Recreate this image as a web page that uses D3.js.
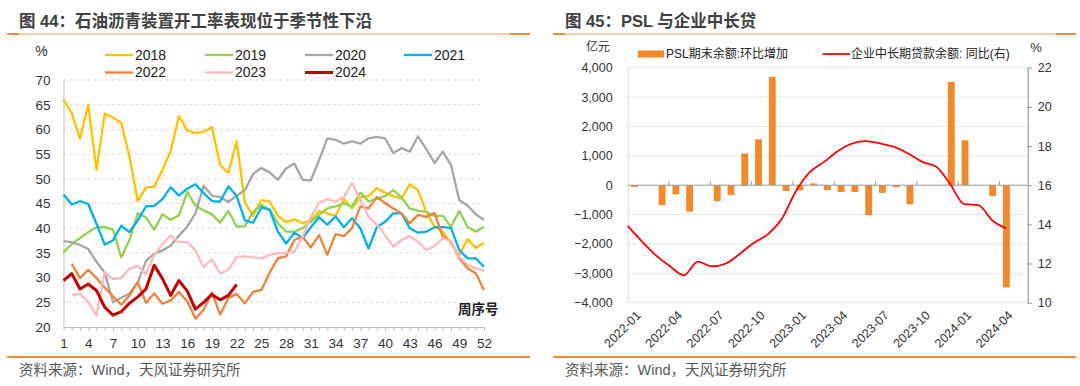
<!DOCTYPE html>
<html lang="zh">
<head>
    <meta charset="UTF-8"/>
    <title>图 44 / 图 45</title>
    <script src="https://d3js.org/d3.v7.min.js"></script>
    <style>
        body { margin: 0; background: #fff; }
        svg text { font-family: "Liberation Sans", "Noto Sans CJK SC", sans-serif; }
    </style>
</head>
<body>
<script>
    // ---- left chart data: weekly operating rate (%) ----
    var weeks = d3.range(1, 53);
    var years = ["2018", "2019", "2020", "2021", "2022", "2023", "2024"];
    var s2018 = [66, 63.3, 58.2, 65, 51.8, 63.2, 62.4, 61.3, 54.5, 45.5, 48.2, 48.4, 51.8, 55.6, 62.7, 59.8, 59.3, 59.5, 60.5, 52.8,
                 51.2, 57.6, 45.2, 42.5, 45.7, 45.4, 42.5, 41.2, 41.8, 41, 41.6, 43.5, 43, 42.5, 45.9, 44, 46.3, 46.5, 48.1, 47.2,
                 46.5, 46, 48.9, 47.7, 43.3, 40.3, 39.3, 36.9, 34.6, 37.8, 36, 37];
    var s2019 = [35.1, 36.8, 38, 39.2, 40.2, 40.2, 39.7, 34.1, 37.6, 43, 42.2, 39.7, 42.8, 41.7, 42.6, 47.3, 44.6, 43.6, 42.8, 41.1,
                 43.5, 40.3, 40.4, 43.3, 44.7, 43.8, 41, 39.3, 39.3, 40, 41.3, 42.7, 44, 44.4, 45, 44.4, 47.2, 45.4, 46, 46.5,
                 47.7, 46.2, 44, 43.5, 43.3, 42.5, 42.5, 40.3, 43.5, 40.3, 39.3, 40.3];
    var s2020 = [37.4, 37.2, 36.6, 35.8, 33.2, 31, 25, 25.9, 26.8, 29, 33.4, 34.8, 35.5, 36.5, 38.5, 40.3, 43, 48.6, 46.6, 46.3,
                 45.3, 46.6, 47.7, 51, 52.2, 51.3, 49.8, 52.1, 53.1, 49.8, 49.7, 53.8, 58.2, 57.9, 57.1, 57.6, 57.1, 58.2, 58.5, 58.2,
                 55.2, 56.2, 55.5, 58.6, 56, 53.2, 55.5, 52.8, 45.7, 44.6, 42.8, 41.7];
    var s2021 = [46.8, 44.8, 45.5, 44.9, 40.9, 36.7, 37.5, 40.5, 39.2, 41.6, 44.4, 44.5, 45.9, 48.3, 46.6, 48, 48.9, 47.1, 45.5, 45.4,
                 48.5, 46.5, 41.6, 41.1, 44.2, 43.7, 39.3, 36.9, 39.1, 38, 40.2, 42.2, 40.7, 42.4, 40.2, 42, 40, 35.9, 40.2, 41.3,
                 43, 43, 40, 39.1, 39.3, 40.2, 40.2, 40, 35.6, 33.9, 33.9, 32.2];
    var s2022 = [null, 32.8, 29.9, 31.6, 29.9, 28, 26.2, 24.5, 26.4, 29.1, 24.9, 26.8, 24.7, 25.4, 27.1, 25.2, 21.7, 23.5, 27, 22.5,
                 25.9, 26.7, 24.8, 27.1, 27.5, 31, 33.9, 34.3, 37.6, 38.3, 36.1, 38.6, 34.6, 38.8, 38.4, 40, 44.4, 44, 46.3, 45.1,
                 44, 43, 41, 42.7, 42.3, 43.1, 38.3, 37.3, 33.9, 31.9, 30.9, 27.5];
    var s2023 = [null, 26.5, 26.7, 25, 22.4, 31.1, 29.7, 29.9, 31.8, 32.4, 30.7, 34.5, 36.8, 38.5, 37.2, 37.2, 35.5, 32.1, 33.7, 30.8,
                 31.6, 34.2, 34.3, 34.1, 33.9, 34.6, 34.9, 35, 35.2, 38.3, 42.3, 45.2, 45.9, 45.4, 46.3, 49.2, 45.7, 42.3, 40.7, 38.6,
                 36.3, 37.6, 38.4, 37.3, 35.6, 36.4, 38, 37.3, 34.2, 32.6, 31.9, 31.3];
    var s2024 = [29.4, 30.8, 27.7, 28.7, 27.4, 24, 22.4, 23.1, 24.8, 26.1, 27.7, 32.5, 29.8, 26.4, 29.4, 27.3, 23.6, 25, 26.6, 25.5,
                 26.4, 28.6];
    var leftTicks = d3.range(20, 75, 5);

    // ---- right chart data ----
    var months = ["2022-01", "2022-02", "2022-03", "2022-04", "2022-05", "2022-06", "2022-07", "2022-08", "2022-09", "2022-10",
                  "2022-11", "2022-12", "2023-01", "2023-02", "2023-03", "2023-04", "2023-05", "2023-06", "2023-07", "2023-08",
                  "2023-09", "2023-10", "2023-11", "2023-12", "2024-01", "2024-02", "2024-03", "2024-04"];
    // PSL期末余额:环比增加 (亿元)
    var psl = [-60, 0, -680, -306, -900, 0, -545, -330, 1080, 1560, 3690, -195, -170, 60, -170, -230, -230, -1020, -260, -70,
               -650, 0, 0, 3515, 1530, 0, -365, -3480];
    // 企业中长期贷款余额:同比 (%)
    var loanYoy = [13.92, 13.14, 12.43, 11.87, 11.4, 12.1, 11.85, 12.0, 12.5, 13.06, 13.5, 14.3, 15.7, 16.68, 17.19, 17.75,
                   18.13, 18.25, 18.13, 17.96, 17.62, 17.19, 16.94, 16.05, 15.03, 14.98, 14.2, 13.79];
    var rightLeftTicks = d3.range(-4000, 4001, 1000);
    var rightRightTicks = d3.range(10, 23, 2);

    var seriesList = [s2018, s2019, s2020, s2021, s2022, s2023, s2024];
    var colors = ["#ffc000", "#92d050", "#a6a6a6", "#00b0f0", "#f0823c", "#ffb9bd", "#c00000"];

    var svg = d3.select("body").append("svg")
        .attr("width", 1080)
        .attr("height", 386);

    // ---- headers and footers ----
    function header(x0, x1, title) {
        svg.append("line").attr("x1", x0).attr("x2", x1).attr("y1", 34).attr("y2", 34)
            .attr("stroke", "#fbd0ae").attr("stroke-width", 2);
        svg.append("line").attr("x1", x0).attr("x2", x0 + 12).attr("y1", 34).attr("y2", 34)
            .attr("stroke", "#f08a3a").attr("stroke-width", 2);
        svg.append("line").attr("x1", x1 - 20).attr("x2", x1).attr("y1", 34).attr("y2", 34)
            .attr("stroke", "#f08a3a").attr("stroke-width", 2);
        svg.append("text").attr("x", x0 + 12).attr("y", 26.5)
            .attr("font-size", "16.5px").attr("font-weight", "bold").attr("fill", "#404040")
            .text(title);
        svg.append("line").attr("x1", x0).attr("x2", x1).attr("y1", 357).attr("y2", 357)
            .attr("stroke", "#f08a3a").attr("stroke-width", 2);
        svg.append("text").attr("x", x0 + 12).attr("y", 375)
            .attr("font-size", "14.5px").attr("fill", "#595959")
            .text("资料来源：Wind，天风证券研究所");
    }
    header(7, 530, "图 44：石油沥青装置开工率表现位于季节性下沿");
    header(553, 1076, "图 45：PSL 与企业中长贷");

    // ================= left chart =================
    var lx = d3.scaleLinear().domain([1, 52]).range([63.5, 484]);
    var ly = d3.scaleLinear().domain([20, 70]).range([327, 80]);

    // dashed gridlines
    svg.append("g").selectAll("line")
        .data(leftTicks.slice(1))
        .enter().append("line")
        .attr("x1", lx(1)).attr("x2", lx(52))
        .attr("y1", function(d) { return ly(d); })
        .attr("y2", function(d) { return ly(d); })
        .attr("stroke", "#d9d9d9").attr("stroke-dasharray", "3,3");

    var lyAxis = svg.append("g")
        .attr("transform", "translate(" + lx(1) + ",0)")
        .call(d3.axisLeft(ly).tickValues(leftTicks).tickSize(0).tickSizeOuter(0).tickPadding(13));
    lyAxis.select(".domain").attr("stroke", "#bfbfbf");
    lyAxis.selectAll("text").attr("font-size", "13.5px").attr("fill", "#333").style("font-family", null);

    var lxAxis = svg.append("g")
        .attr("transform", "translate(0," + ly(20) + ")")
        .call(d3.axisBottom(lx).tickValues(weeks).tickSize(4).tickSizeOuter(0).tickPadding(7)
            .tickFormat(function(d) { return (d - 1) % 3 === 0 ? d : ""; }));
    lxAxis.select(".domain").attr("stroke", "#bfbfbf");
    lxAxis.selectAll(".tick line").attr("stroke", "#bfbfbf");
    lxAxis.selectAll("text").attr("font-size", "13.5px").attr("fill", "#333");

    svg.append("text").attr("x", 41.5).attr("y", 51.5).attr("dy", "0.35em")
        .attr("text-anchor", "middle").attr("font-size", "14px").attr("fill", "#333").text("%");
    svg.append("text").attr("x", 458).attr("y", 309).attr("dy", "0.35em")
        .attr("font-size", "13.5px").attr("font-weight", "bold").attr("fill", "#222").text("周序号");

    // lines for each year
    var line = d3.line()
        .defined(function(d) { return d != null; })
        .x(function(d, i) { return lx(weeks[i]); })
        .y(function(d) { return ly(d); });

    seriesList.forEach(function(s, k) {
        svg.append("path")
            .datum(s)
            .attr("d", line)
            .attr("fill", "none")
            .attr("stroke", colors[k])
            .attr("stroke-width", k === 6 ? 3 : 2.3)
            .attr("stroke-linejoin", "round");
    });

    // legend
    var legendPos = [[105, 55], [205, 55], [305, 55], [404, 55], [105, 72.5], [205, 72.5], [305, 72.5]];
    years.forEach(function(y, k) {
        svg.append("line")
            .attr("x1", legendPos[k][0]).attr("x2", legendPos[k][0] + 28)
            .attr("y1", legendPos[k][1]).attr("y2", legendPos[k][1])
            .attr("stroke", colors[k]).attr("stroke-width", k === 6 ? 3 : 2.3);
        svg.append("text")
            .attr("x", legendPos[k][0] + 30).attr("y", legendPos[k][1]).attr("dy", "0.35em")
            .attr("font-size", "14px").attr("fill", "#222").text(y);
    });

    // ================= right chart =================
    var plotLeft = 627.7, plotRight = 1027.7, step = 13.77;
    var rx = d3.scaleBand().domain(months)
        .range([plotLeft, plotLeft + step * months.length])
        .paddingInner(0.5).paddingOuter(0.25);
    var bw = rx.bandwidth();
    var ryL = d3.scaleLinear().domain([-4000, 4000]).range([302.7, 67.7]);
    var ryR = d3.scaleLinear().domain([10, 22]).range([302.7, 67.7]);
    var rxLine = d3.scalePoint().domain(months)
        .range([plotLeft, rx(months[months.length - 1]) + bw / 2]);

    // gridlines
    svg.append("g").selectAll("line")
        .data(rightLeftTicks.filter(function(d) { return d !== 0; }))
        .enter().append("line")
        .attr("x1", plotLeft).attr("x2", plotRight)
        .attr("y1", function(d) { return ryL(d); })
        .attr("y2", function(d) { return ryL(d); })
        .attr("stroke", "#e6e6e6");

    var rlAxis = svg.append("g")
        .attr("transform", "translate(" + plotLeft + ",0)")
        .call(d3.axisLeft(ryL).tickValues(rightLeftTicks).tickSize(0).tickSizeOuter(0).tickPadding(15)
            .tickFormat(d3.format(",")));
    rlAxis.select(".domain").attr("stroke", "#d9d9d9");
    rlAxis.selectAll("text").attr("font-size", "12.5px").attr("fill", "#333");

    var rrAxis = svg.append("g")
        .attr("transform", "translate(" + plotRight + ",0)")
        .call(d3.axisRight(ryR).tickValues(rightRightTicks).tickSize(4).tickSizeOuter(0).tickPadding(6));
    rrAxis.select(".domain").attr("stroke", "#8c8c8c");
    rrAxis.selectAll(".tick line").attr("stroke", "#8c8c8c");
    rrAxis.selectAll("text").attr("font-size", "12.5px").attr("fill", "#333");

    // bars
    svg.append("g").selectAll("rect")
        .data(psl)
        .enter().append("rect")
        .attr("x", function(d, i) { return rx(months[i]); })
        .attr("y", function(d) { return ryL(Math.max(0, d)); })
        .attr("width", bw)
        .attr("height", function(d) { return Math.abs(ryL(d) - ryL(0)); })
        .attr("fill", "#f28a2c");

    // zero line with small ticks every 3 months
    svg.append("line").attr("x1", plotLeft).attr("x2", plotRight)
        .attr("y1", ryL(0)).attr("y2", ryL(0)).attr("stroke", "#999");
    svg.append("g").selectAll("line")
        .data(months.filter(function(m, i) { return i % 3 === 2; }))
        .enter().append("line")
        .attr("x1", function(m) { return rx(m) + bw / 2 + step / 2; })
        .attr("x2", function(m) { return rx(m) + bw / 2 + step / 2; })
        .attr("y1", ryL(0)).attr("y2", ryL(0) - 4)
        .attr("stroke", "#999");

    // loan yoy line
    var rline = d3.line()
        .x(function(d, i) { return rxLine(months[i]); })
        .y(function(d) { return ryR(d); })
        .curve(d3.curveMonotoneX);
    svg.append("path")
        .datum(loanYoy)
        .attr("d", rline)
        .attr("fill", "none")
        .attr("stroke", "#ff0000")
        .attr("stroke-width", 1.8);

    // date labels
    svg.append("g").selectAll("text")
        .data(months.filter(function(m, i) { return i % 3 === 0; }))
        .enter().append("text")
        .attr("transform", function(m) { return "translate(" + (rx(m) + bw / 2 + 4) + ",313) rotate(-45)"; })
        .attr("text-anchor", "end")
        .attr("dy", "0.35em")
        .attr("font-size", "12.5px").attr("fill", "#333")
        .text(function(m) { return m; });

    // units and legend
    svg.append("text").attr("x", 598).attr("y", 47).attr("dy", "0.35em").attr("text-anchor", "middle")
        .attr("font-size", "12px").attr("fill", "#333").text("亿元");
    svg.append("text").attr("x", 1036).attr("y", 47).attr("dy", "0.35em").attr("text-anchor", "middle")
        .attr("font-size", "13px").attr("fill", "#333").text("%");
    svg.append("rect").attr("x", 638).attr("y", 50.5).attr("width", 26).attr("height", 7).attr("fill", "#f28a2c");
    svg.append("text").attr("x", 666).attr("y", 54).attr("dy", "0.35em")
        .attr("font-size", "12px").attr("fill", "#222").text("PSL期末余额:环比增加");
    svg.append("line").attr("x1", 822.7).attr("x2", 850).attr("y1", 54).attr("y2", 54)
        .attr("stroke", "#ff0000").attr("stroke-width", 1.8);
    svg.append("text").attr("x", 851).attr("y", 54).attr("dy", "0.35em")
        .attr("font-size", "12px").attr("fill", "#222").text("企业中长期贷款余额: 同比(右)");
</script>
</body>
</html>
